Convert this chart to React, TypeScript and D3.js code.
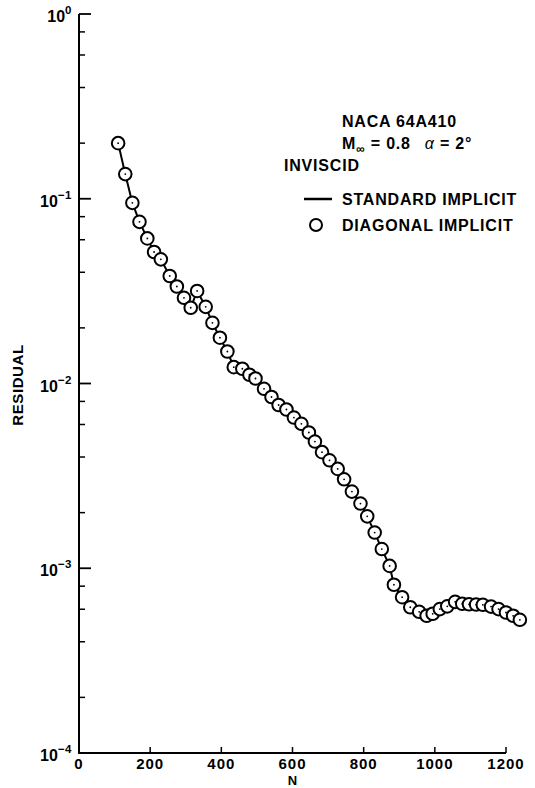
import React from "react";
import * as d3 from "d3";

// iteration number and residual
const iterN = [110, 130, 150, 170, 192, 211, 230, 255, 275, 295, 314, 332, 356, 375, 396, 417, 435, 459, 479, 496,
  520, 541, 561, 583, 604, 625, 646, 663, 683, 704, 727, 745, 767, 791, 810, 831, 851, 873, 885, 908,
  931, 956, 977, 994, 1014, 1035, 1057, 1077, 1096, 1116, 1135, 1158, 1179, 1200, 1220, 1239];
const residual = [0.2, 0.136, 0.095, 0.075, 0.061, 0.0515, 0.047, 0.0382, 0.0335, 0.0291, 0.0257, 0.0317, 0.026, 0.0213,
  0.0177, 0.0149, 0.01226, 0.01202, 0.01115, 0.01064, 0.00936, 0.00845, 0.00765, 0.00723, 0.00654, 0.00605,
  0.00543, 0.00485, 0.00425, 0.00384, 0.00345, 0.00303, 0.0026, 0.00224, 0.00191, 0.00156, 0.00127, 0.00103,
  0.000814, 0.000697, 0.000615, 0.000581, 0.000553, 0.000567, 0.000601, 0.000622, 0.000658, 0.000642, 0.000638,
  0.000636, 0.000634, 0.00062, 0.000601, 0.000576, 0.000553, 0.000526];

const xTicks = [0, 200, 400, 600, 800, 1000, 1200];
const yDecades = [0, -1, -2, -3, -4];
const yMinor = [2, 4, 6, 8];

const W = 535, H = 788;
const font = "'Liberation Sans', Arial, Helvetica, sans-serif";

export default function App() {
  const x = d3.scaleLinear().domain([0, 1200]).range([79, 506]);
  const y = d3.scaleLog().domain([1e-4, 1]).range([753, 14]);

  const pts = iterN.map((n, i) => [n, residual[i]] as [number, number]);
  const line = d3.line<[number, number]>().x(d => x(d[0])).y(d => y(d[1]));

  const minorVals: number[] = [];
  yDecades.slice(1).forEach(e => yMinor.forEach(m => minorVals.push(m * Math.pow(10, e))));

  const x0 = x(0), yb = y(1e-4);

  return (
    <svg width={W} height={H} style={{ position: "absolute", left: 0, top: 0, background: "#fff" }}
      fontFamily={font} fontWeight="bold">
      {/* axes */}
      <line x1={x0} x2={x0} y1={y(1)} y2={yb} stroke="#000" strokeWidth={2} />
      <line x1={x0 - 1} x2={x(1200)} y1={yb} y2={yb} stroke="#000" strokeWidth={2} />
      {yDecades.map(e => (
        <g key={e}>
          <line x1={x0} x2={x0 + 12} y1={y(Math.pow(10, e))} y2={y(Math.pow(10, e))} stroke="#000" strokeWidth={1.8} />
          <text x={x0 - 7} y={y(Math.pow(10, e)) + 8} textAnchor="end" fontSize={16}>
            10<tspan fontSize={11.5} dy={-8} letterSpacing={0.5}>{e === 0 ? "0" : "\u2212" + Math.abs(e)}</tspan>
          </text>
        </g>
      ))}
      {minorVals.map((v, i) => (
        <line key={i} x1={x0} x2={x0 + 6} y1={y(v)} y2={y(v)} stroke="#000" strokeWidth={1.5} />
      ))}
      {xTicks.map(t => (
        <g key={t}>
          {t > 0 && <line x1={x(t)} x2={x(t)} y1={yb} y2={yb - 6} stroke="#000" strokeWidth={1.5} />}
          <text x={x(t)} y={yb + 16} textAnchor="middle" fontSize={15} letterSpacing={1}>{t}</text>
        </g>
      ))}
      <text x={x(600)} y={785} textAnchor="middle" fontSize={13}>N</text>
      <text transform={`translate(23,385) rotate(-90)`} textAnchor="middle" fontSize={15} letterSpacing={0.6}>RESIDUAL</text>

      {/* data */}
      <path d={line(pts) || ""} fill="none" stroke="#000" strokeWidth={2} />
      {pts.map((d, i) => (
        <g key={i}>
          <circle cx={x(d[0])} cy={y(d[1])} r={6.3} fill="#fff" stroke="#000" strokeWidth={2} />
          <circle cx={x(d[0])} cy={y(d[1])} r={0.9} fill="#000" />
        </g>
      ))}

      {/* legend */}
      <g fontSize={16} letterSpacing={0.8}>
        <text x={342} y={127}>NACA 64A410</text>
        <text x={342} y={149}>M<tspan fontSize={12} dy={4}>∞</tspan><tspan dy={-4}> = 0.8</tspan>
          <tspan dx={14} fontStyle="italic" fontWeight="normal">α</tspan><tspan> = 2°</tspan></text>
        <text x={284} y={171}>INVISCID</text>
        <line x1={304} x2={332} y1={199} y2={199} stroke="#000" strokeWidth={2.5} />
        <text x={342} y={205}>STANDARD IMPLICIT</text>
        <circle cx={316} cy={225} r={6} fill="#fff" stroke="#000" strokeWidth={2} />
        <text x={342} y={231}>DIAGONAL IMPLICIT</text>
      </g>
    </svg>
  );
}
